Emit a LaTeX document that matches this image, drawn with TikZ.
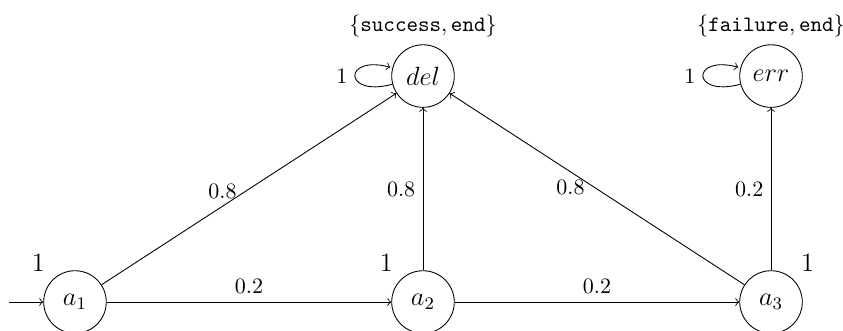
\documentclass[tikz,border=0pt]{standalone}
\usepackage{amsmath,amssymb}
\usepackage{tikz}
\usetikzlibrary{arrows}
\usetikzlibrary{positioning}

\begin{document}
\begin{tikzpicture}[
		->,
		>=to,
		node distance=5.56cm,
		state node/.style={circle, draw, minimum size=1cm, inner sep=0pt, font=\large},
		reward/.style={font=\large},
		prop/.style={font=\normalsize},
		prob/.style={font=\normalsize}
		]
		
		\useasboundingbox (-1.198,-0.463) rectangle (12.27,4.825);
		
		\node[state node, label={[reward]above left:1}] (a1) {$a_1$};
		\node[state node, label={[reward]above left:1}] (a2) [right of=a1] {$a_2$};
		\node[state node, label={[reward]above right:1}] (a3) [right of=a2] {$a_3$};
		\node[state node, label={[prop]above:$\{\texttt{success}, \texttt{end}\}$}] (del) [above of=a2, node distance=3.61cm] {$del$};
		\node[state node, label={[prop]above:$\{\texttt{failure}, \texttt{end}\}$}] (err) [above of=a3, node distance=3.61cm] {$err$};
		\coordinate[left=0.55cm of a1] (start);
		
		\path
		(start) edge (a1)
		(a1) edge node[prob, above] {0.2} (a2)
		(a2) edge node[prob, above] {0.2} (a3)
		(a1) edge node[prob, pos=0.41, above] {0.8} (del)
		(a2) edge node[prob, left] {0.8} (del)
		(a3) edge node[prob, pos=0.59, below] {0.8} (del)
		(a3) edge node[prob, left] {0.2} (err)
		(del) edge[loop left] node[prob, left] {1} (del)
		(err) edge[loop left] node[prob, left] {1} (err);
	\end{tikzpicture}
\end{document}
